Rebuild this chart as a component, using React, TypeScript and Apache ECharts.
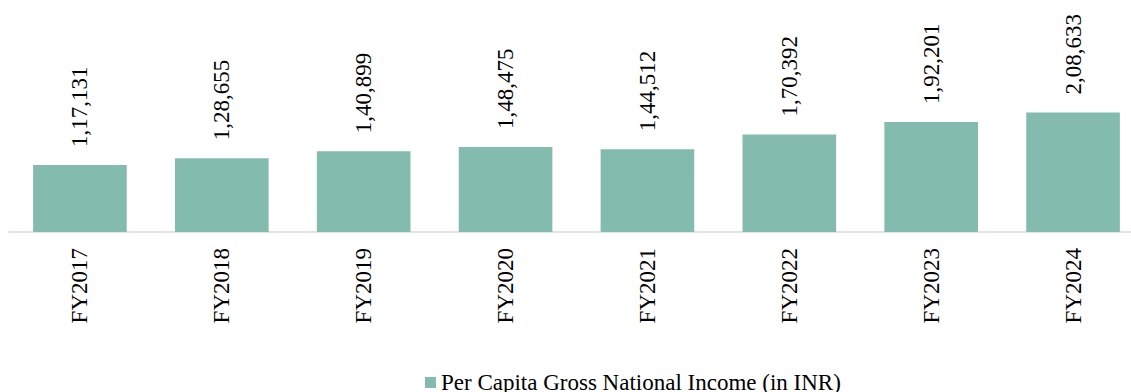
import React, { useEffect, useRef } from "react";
import * as echarts from "echarts";

const categories = ["FY2017", "FY2018", "FY2019", "FY2020", "FY2021", "FY2022", "FY2023", "FY2024"];
const values = [117131, 128655, 140899, 148475, 144512, 170392, 192201, 208633];
const seriesName = "Per Capita Gross National Income (in INR)";

const FONT = "Times New Roman, Liberation Serif, DejaVu Serif, serif";

function fmtIndian(n: number): string {
  const s = String(Math.round(n));
  if (s.length <= 3) return s;
  const last3 = s.slice(-3);
  let rest = s.slice(0, -3);
  const parts: string[] = [];
  while (rest.length > 2) {
    parts.unshift(rest.slice(-2));
    rest = rest.slice(0, -2);
  }
  if (rest.length) parts.unshift(rest);
  return parts.join(",") + "," + last3;
}

export default function App() {
  const ref = useRef<HTMLDivElement>(null);
  useEffect(() => {
    document.body.style.margin = "0";
    const chart = echarts.init(ref.current!, null, { renderer: "svg" });
    chart.setOption({
      animation: false,
      textStyle: { fontFamily: FONT },
      grid: { left: 9, right: 4, top: 3, bottom: 160 },
      legend: {
        left: 420,
        top: 366,
        icon: "rect",
        itemWidth: 11,
        itemHeight: 11,
        itemGap: 4,
        textStyle: { fontFamily: FONT, fontSize: 23, color: "#000" },
        data: [seriesName],
      },
      xAxis: {
        type: "category",
        data: categories,
        axisLine: { show: true, lineStyle: { color: "#D9D9D9", width: 1.5 } },
        axisTick: { show: false },
        axisLabel: {
          rotate: 90,
          margin: 16,
          fontFamily: FONT,
          fontSize: 23,
          color: "#000",
        },
      },
      yAxis: {
        type: "value",
        min: 0,
        max: 400000,
        show: false,
        splitLine: { show: false },
      },
      series: [
        {
          name: seriesName,
          type: "bar",
          data: values,
          barCategoryGap: "34%",
          itemStyle: { color: "#83BCAF" },
          label: {
            show: true,
            position: "top",
            rotate: 90,
            align: "left",
            verticalAlign: "middle",
            distance: 18,
            fontFamily: FONT,
            fontSize: 23,
            color: "#000",
            formatter: (p: any) => fmtIndian(p.value),
          },
        },
      ],
    });
    return () => chart.dispose();
  }, []);
  return (
    <div style={{ width: 1131, height: 392, overflow: "hidden" }}>
      <div ref={ref} style={{ width: 1148, height: 392 }} />
    </div>
  );
}
